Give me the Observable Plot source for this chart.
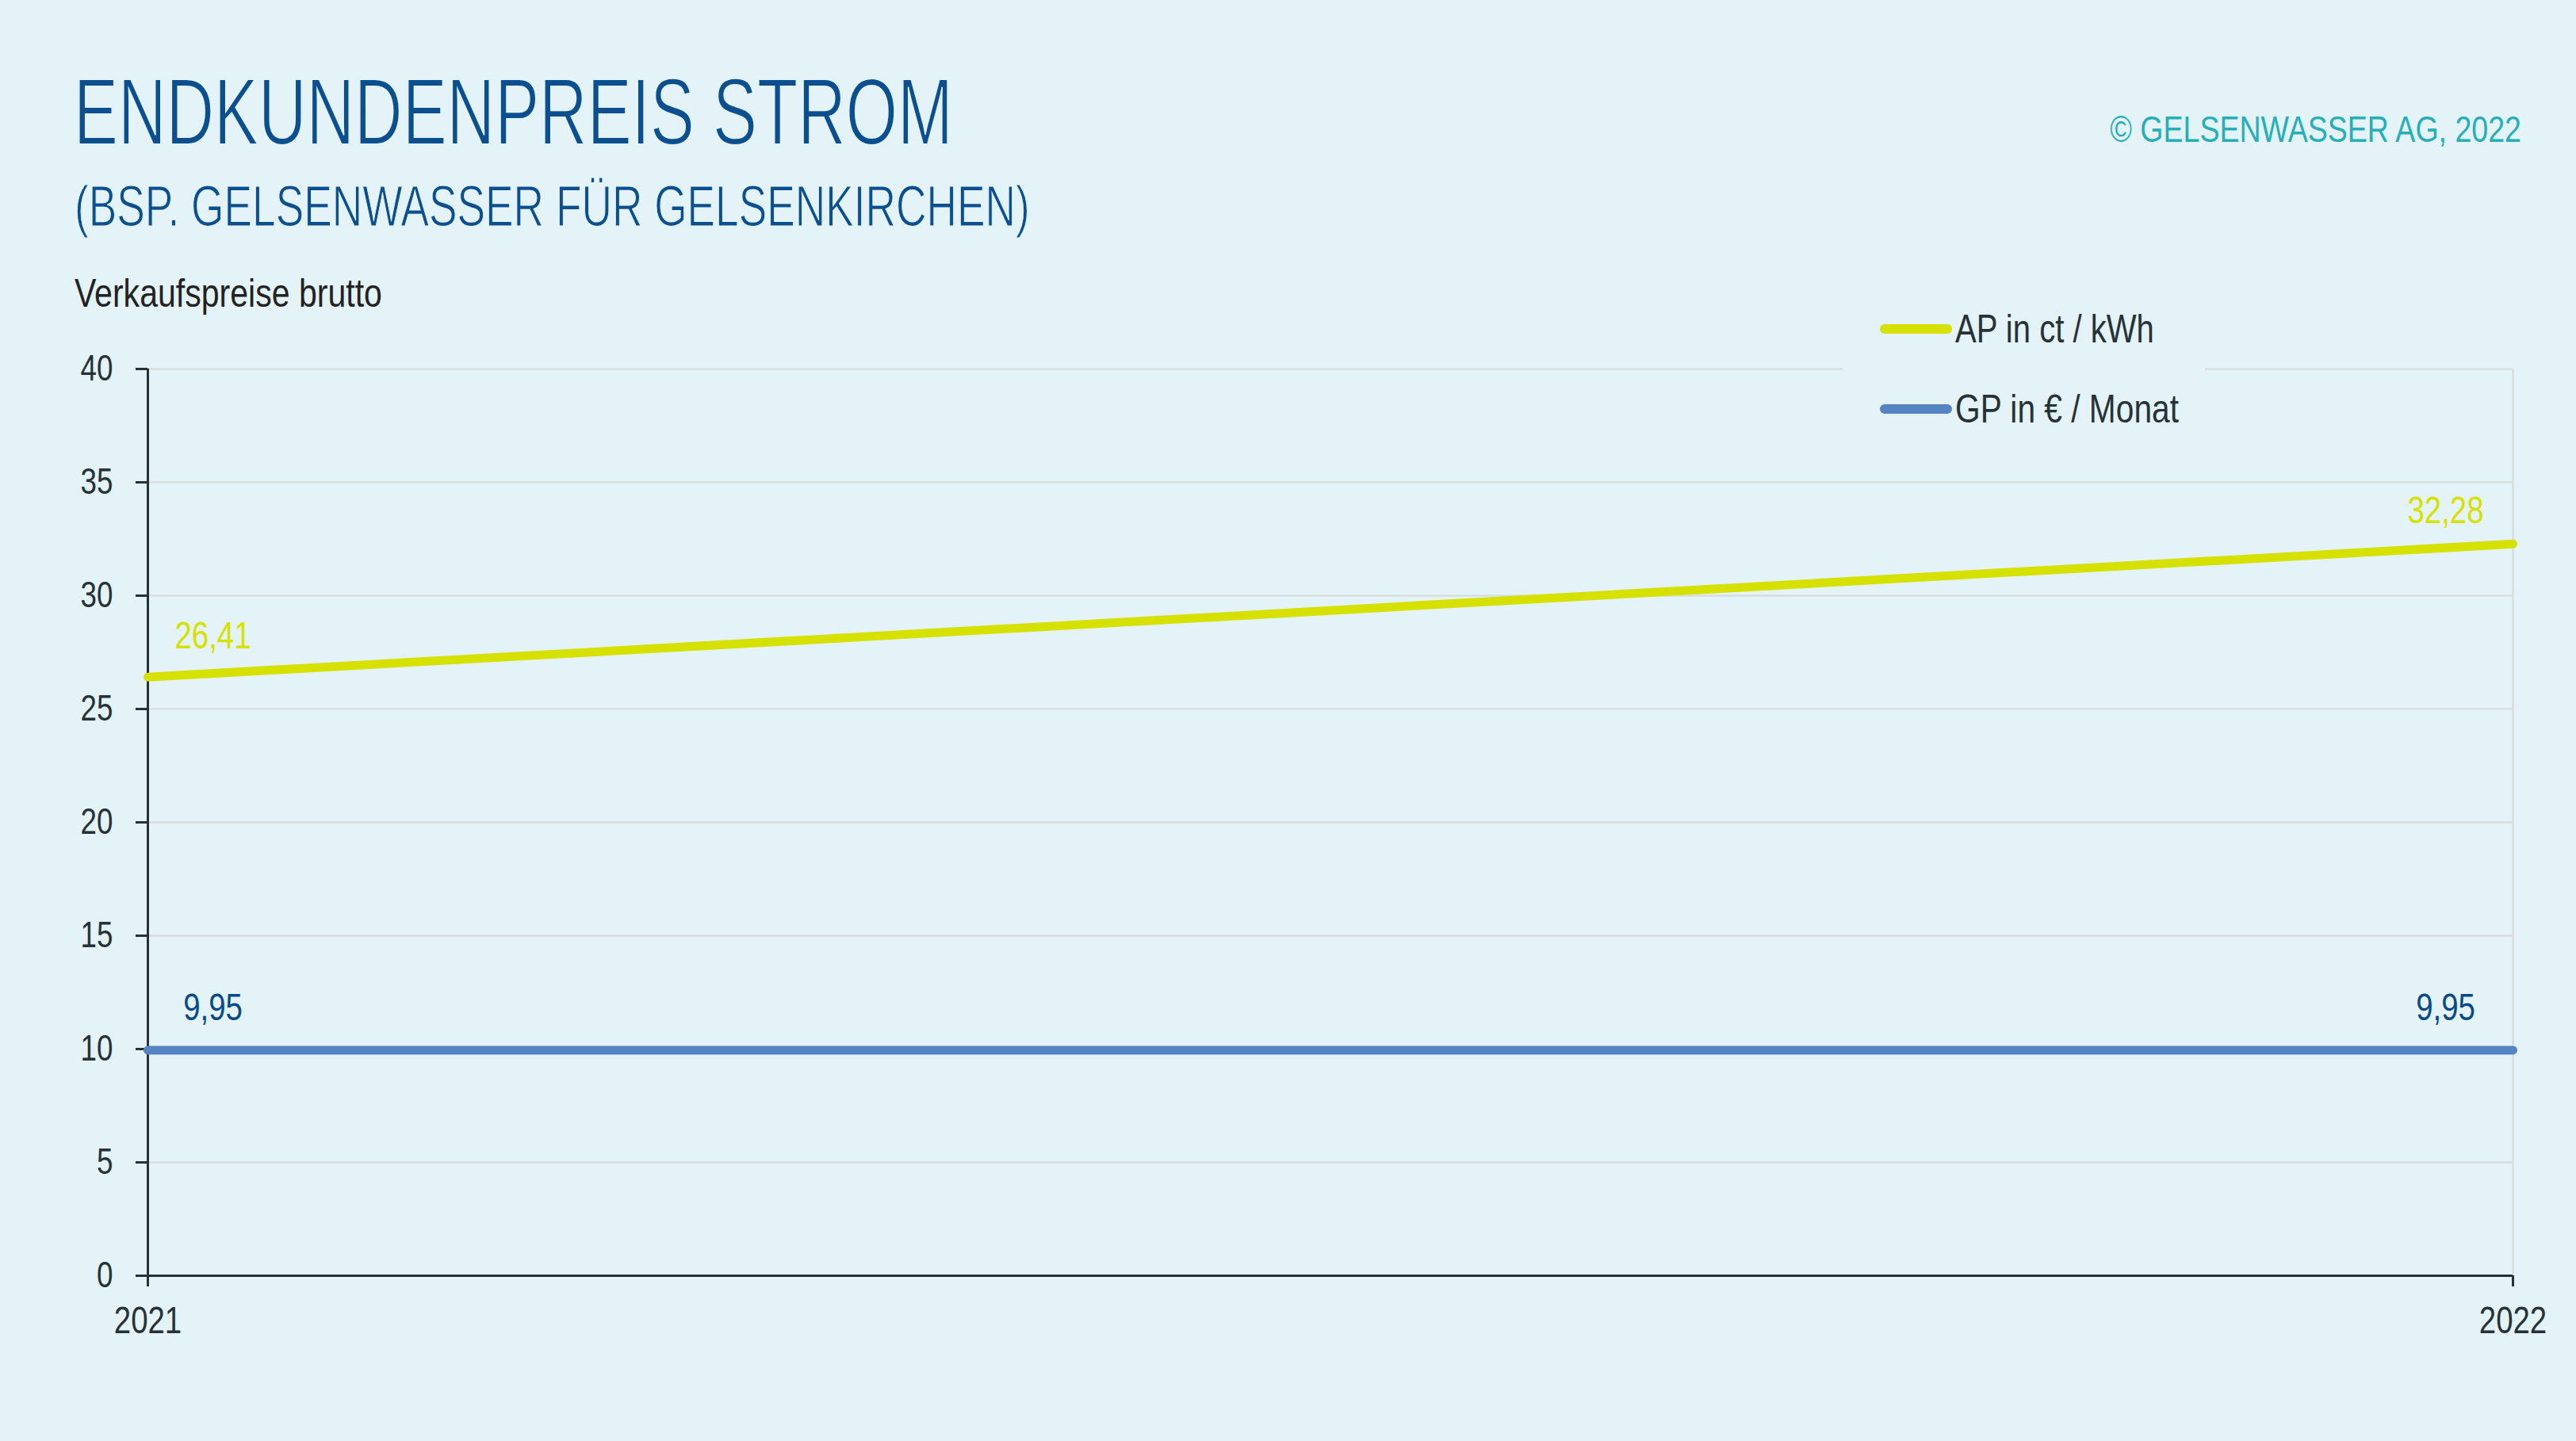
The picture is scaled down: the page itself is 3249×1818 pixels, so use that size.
<!DOCTYPE html>
<html>
<head>
<meta charset="utf-8">
<script src="https://cdn.jsdelivr.net/npm/d3@7"></script>
<script src="https://cdn.jsdelivr.net/npm/@observablehq/plot@0.6"></script>
<style>
  html, body { margin: 0; padding: 0; background: #E3F3F7; }
  #wrap { position: relative; width: 3249px; height: 1818px; background: #E3F3F7; overflow: hidden;
          font-family: "Liberation Sans Narrow", "Arial Narrow", "Liberation Sans", sans-serif; }
  #chart { position: absolute; left: 0; top: 380px; }
  #overlay { position: absolute; left: 0; top: 0; }
  svg text { font-family: "Liberation Sans Narrow", "Arial Narrow", "Liberation Sans", sans-serif; }
</style>
</head>
<body>
<div id="wrap">
  <div id="chart"></div>
  <svg id="overlay" width="3249" height="600" xmlns="http://www.w3.org/2000/svg"></svg>
</div>
<script>
// ---- data ----
const years = [2021, 2022];
const xTickLabels = ["2021", "2022"];
const apValues = [26.41, 32.28];
const gpValues = [9.95, 9.95];
const seriesNames = ["AP in ct / kWh", "GP in € / Monat"];
const yTicks = [0, 5, 10, 15, 20, 25, 30, 35, 40];
const titleText = "ENDKUNDENPREIS STROM";
const subtitleText = "(BSP. GELSENWASSER FÜR GELSENKIRCHEN)";
const copyrightText = "© GELSENWASSER AG, 2022";
const yAxisTitle = "Verkaufspreise brutto";

// ---- styles ----
const BG = "#E3F3F7";
const YELLOW = "#D7E100";
const BLUE = "#5683C2";
const DARKBLUE = "#074A87";
const TITLE = "#0B4F8F";
const TEAL = "#27AEB8";
const DARK = "#263238";
const GRID = "#D9DCDC";
const FONT = '"Liberation Sans Narrow", "Arial Narrow", "Liberation Sans", sans-serif';
const CONDENSE = 0.8;

const apRows = years.map((yr, i) => ({year: yr, value: apValues[i], series: seriesNames[0]}));
const gpRows = years.map((yr, i) => ({year: yr, value: gpValues[i], series: seriesNames[1]}));
const fmt = v => v.toFixed(2).replace(".", ",");

const chart = Plot.plot({
  width: 3249,
  height: 1438,
  marginLeft: 186,
  marginRight: 80,
  marginTop: 85,
  marginBottom: 209,
  style: {background: "transparent", fontFamily: FONT, fontSize: "48px", color: DARK},
  x: {domain: [years[0], years[years.length - 1]], label: null},
  y: {domain: [0, 40], label: null},
  marks: [
    Plot.gridY(yTicks, {stroke: GRID, strokeOpacity: 1, strokeWidth: 2.5}),
    Plot.ruleX([years[1]], {stroke: GRID, strokeOpacity: 1, strokeWidth: 2.5}),
    Plot.axisY(yTicks, {tickSize: 15, tickPadding: 29, color: DARK, strokeWidth: 3, fontSize: 46, label: null}),
    Plot.axisX(years, {tickSize: 14, tickPadding: 24, color: DARK, strokeWidth: 3, fontSize: 48, label: null,
                       tickFormat: d => xTickLabels[years.indexOf(d)]}),
    Plot.ruleX([years[0]], {stroke: DARK, strokeWidth: 3}),
    Plot.ruleY([0], {stroke: DARK, strokeWidth: 3}),
    Plot.line(apRows, {x: "year", y: "value", stroke: YELLOW, strokeWidth: 11, strokeLinecap: "round"}),
    Plot.line(gpRows, {x: "year", y: "value", stroke: BLUE, strokeWidth: 11, strokeLinecap: "round"}),
    Plot.text(apRows.slice(0, 1), {x: "year", y: "value", text: d => fmt(d.value), fill: YELLOW,
      fontSize: 48, textAnchor: "middle", lineAnchor: "bottom", dx: 82, dy: -36}),
    Plot.text(apRows.slice(1), {x: "year", y: "value", text: d => fmt(d.value), fill: YELLOW,
      fontSize: 48, textAnchor: "middle", lineAnchor: "bottom", dx: -85, dy: -26}),
    Plot.text(gpRows.slice(0, 1), {x: "year", y: "value", text: d => fmt(d.value), fill: DARKBLUE,
      fontSize: 48, textAnchor: "middle", lineAnchor: "bottom", dx: 82, dy: -38}),
    Plot.text(gpRows.slice(1), {x: "year", y: "value", text: d => fmt(d.value), fill: DARKBLUE,
      fontSize: 48, textAnchor: "middle", lineAnchor: "bottom", dx: -85, dy: -38})
  ]
});
document.getElementById("chart").appendChild(chart);

// condense text to mimic the narrow typeface of the original
function condense(root) {
  root.querySelectorAll("text").forEach(t => {
    if (t.getAttribute("textLength")) return;
    const len = t.getComputedTextLength();
    if (len > 0) {
      t.setAttribute("textLength", (len * CONDENSE).toFixed(1));
      t.setAttribute("lengthAdjust", "spacingAndGlyphs");
    }
  });
}
condense(chart);

// ---- header & legend overlay ----
const ov = d3.select("#overlay");
// text squeezed horizontally to a target width, anchored at (x, y)
function addText(txt, x, y, size, fill, targetWidth, anchor, thin) {
  const g = ov.append("g").attr("transform", `translate(${x},${y})`);
  const t = g.append("text").attr("x", 0).attr("y", 0).attr("font-size", size).attr("fill", fill).text(txt);
  if (anchor) t.attr("text-anchor", anchor);
  if (thin) t.attr("stroke", BG).attr("stroke-width", thin);
  if (targetWidth) {
    const natural = t.node().getComputedTextLength();
    t.attr("transform", `scale(${(targetWidth / natural).toFixed(4)},1)`);
  }
  return t;
}
addText(titleText, 93, 182, 118, TITLE, 1109, null, 2);
addText(subtitleText, 94, 285, 73, TITLE, 1205, null, 1.2);
addText(copyrightText, 3180, 179, 47, TEAL, 519, "end");
addText(yAxisTitle, 94, 387, 50, "#222", 388);

ov.append("rect").attr("x", 2324).attr("y", 372).attr("width", 457).attr("height", 180).attr("fill", BG);
const legendColors = [YELLOW, BLUE];
const legendY = [415, 516];
const legendLen = [251, 282];
seriesNames.forEach((name, i) => {
  ov.append("line").attr("x1", 2377).attr("x2", 2456).attr("y1", legendY[i]).attr("y2", legendY[i])
    .attr("stroke", legendColors[i]).attr("stroke-width", 12).attr("stroke-linecap", "round");
  addText(name, 2466, legendY[i] + 17, 50, DARK, legendLen[i]);
});
</script>
</body>
</html>
